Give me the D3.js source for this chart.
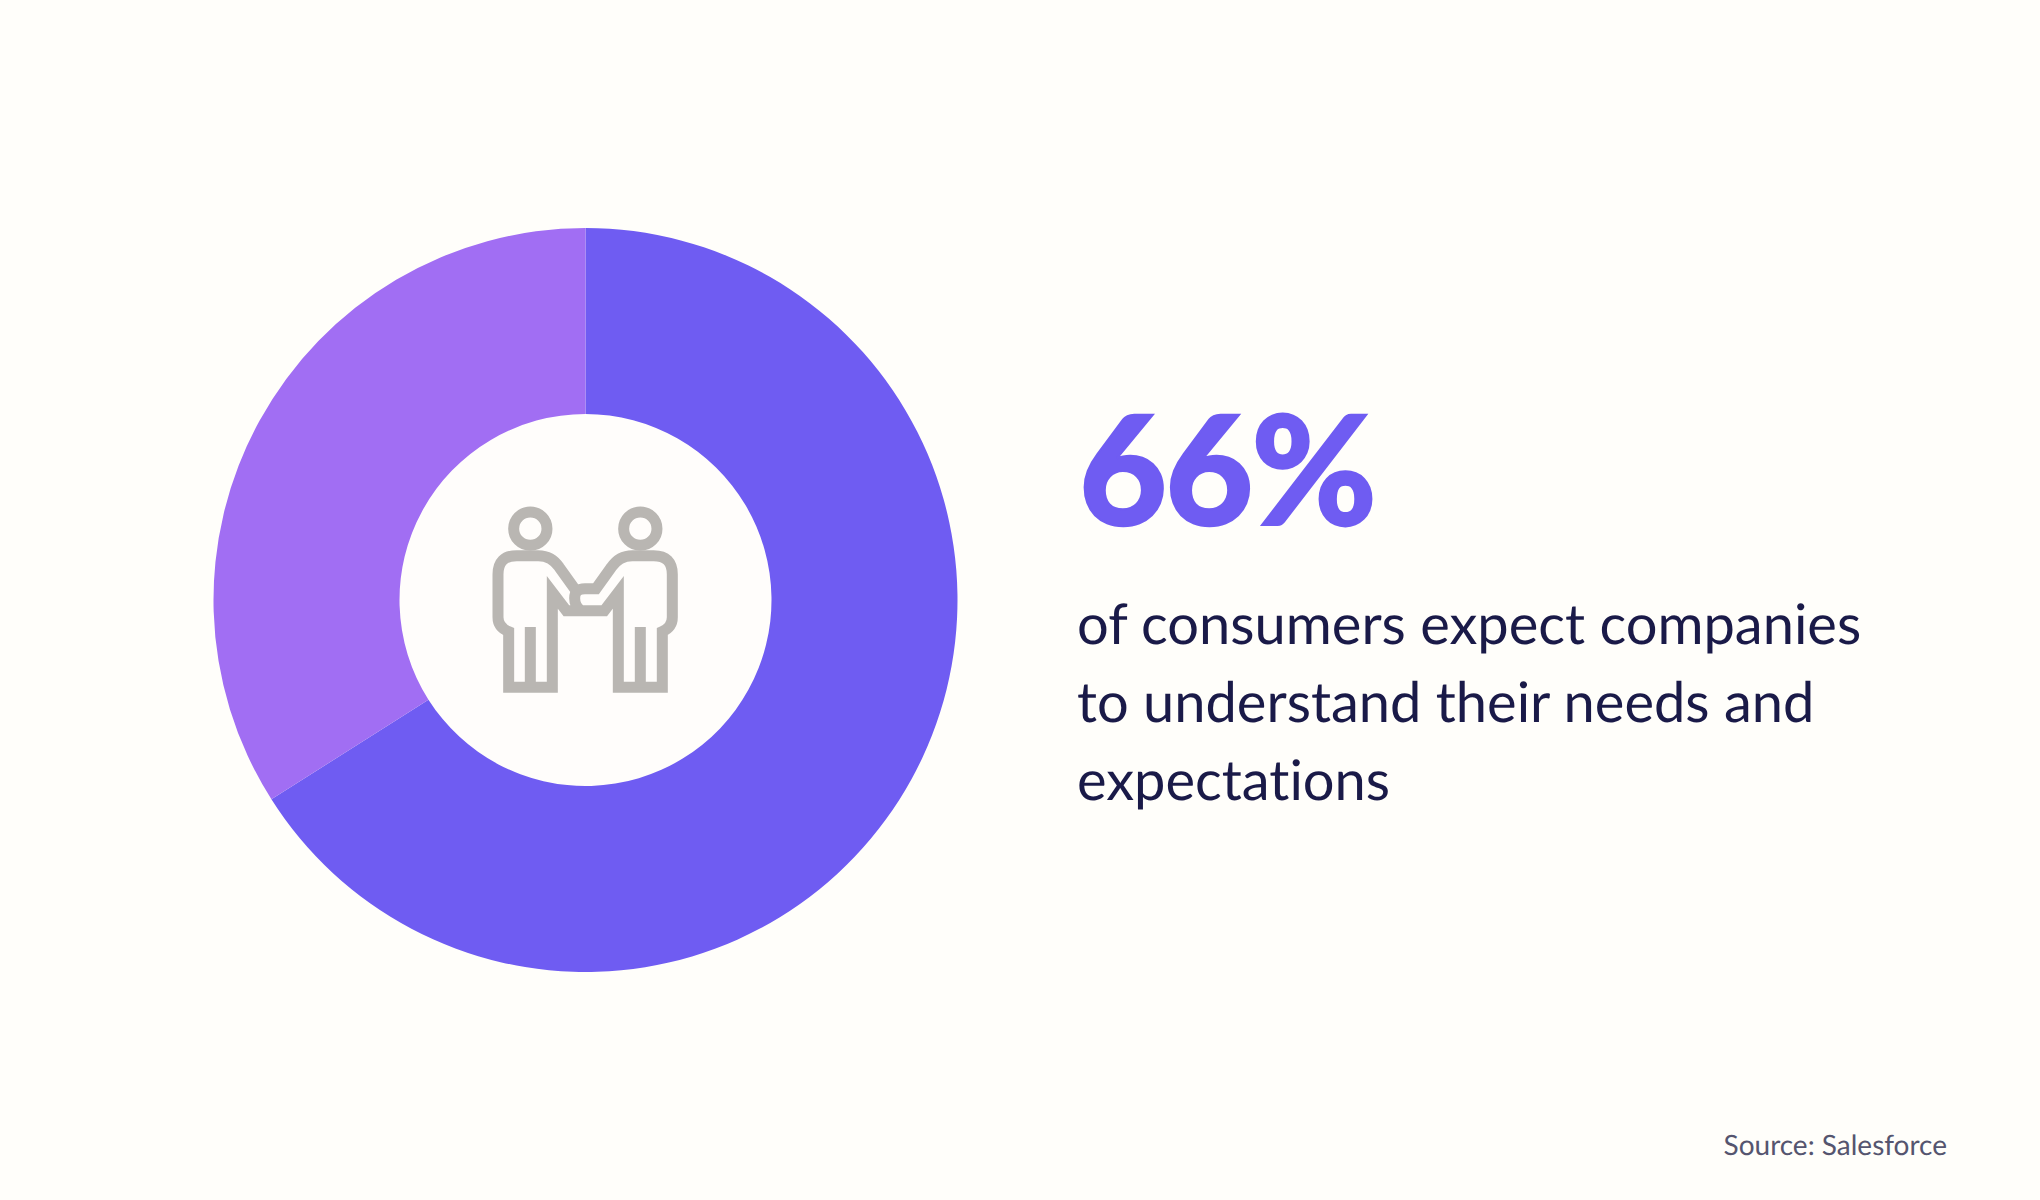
<!DOCTYPE html>
<html>
<head>
<meta charset="utf-8">
<script src="https://cdn.jsdelivr.net/npm/d3@7"></script>
<style>
  html, body { margin: 0; padding: 0; background: #fffefa; }
  svg { display: block; }
  text { font-family: Lato, sans-serif; text-rendering: geometricPrecision; font-variant-ligatures: none; }
</style>
</head>
<body>
<svg id="chart"></svg>
<script>
const labels = ['expect', 'other'];
const values = [66, 34];
const sliceColors = ['#6f5cf2', '#a16ef3'];
const headline = '66%';
const bodyLines = [
  'of consumers expect companies',
  'to understand their needs and',
  'expectations'
];
const sourceText = 'Source: Salesforce';

const svg = d3.select('#chart').attr('width', 2040).attr('height', 1200);

// donut
const donut = svg.append('g').attr('transform', 'translate(585.5,600)');
const pie = d3.pie().sort(null).value(d => d.value);
const arc = d3.arc().innerRadius(186).outerRadius(372);

donut.append('circle').attr('r', 186).attr('fill', '#fffdfb');

donut.selectAll('path')
  .data(pie(labels.map((name, i) => ({ name, value: values[i] }))))
  .enter()
  .append('path')
  .attr('d', arc)
  .attr('fill', (d, i) => sliceColors[i]);

// handshake icon, drawn in a 720 box then scaled down
const icon = svg.append('g')
  .attr('transform', 'translate(470,480) scale(0.3333)')
  .attr('fill', 'none')
  .attr('stroke', '#b9b6b2')
  .attr('stroke-width', 33);

icon.append('circle').attr('cx', 181).attr('cy', 146).attr('r', 50);
icon.append('circle').attr('cx', 511).attr('cy', 146).attr('r', 50);
icon.append('path').attr('d',
  'M318,332 L268,262 Q245,227 205,227 L140,227 Q84,227 84,283 L84,412 Q84,442 116,455 ' +
  'L116,622 L247,622 L247,337 L289,392 L403,392 L445,337 L445,622 L577,622 L577,455 ' +
  'Q607,442 607,412 L607,283 Q607,227 551,227 L487,227 Q447,227 424,262 L378,326 L345,326 ' +
  'Q314,326 314,355 Q314,378 332,392');
icon.append('path').attr('d', 'M181,622 L181,441 M511,622 L511,441');

// text block
svg.append('text')
  .attr('x', 1079)
  .attr('y', 524.5)
  .attr('font-size', 152)
  .attr('font-weight', 900)
  .attr('letter-spacing', -2)
  .attr('fill', '#6f5cf2')
  .attr('stroke', '#6f5cf2')
  .attr('stroke-width', 2)
  .text(headline);

svg.selectAll('text.body')
  .data(bodyLines)
  .enter()
  .append('text')
  .attr('class', 'body')
  .attr('x', 1077)
  .attr('y', (d, i) => 644 + i * 78)
  .attr('font-size', 56)
  .attr('fill', '#1a1a48')
  .text(d => d);

svg.append('text')
  .attr('x', 1947)
  .attr('y', 1155)
  .attr('text-anchor', 'end')
  .attr('font-size', 28)
  .attr('fill', '#55556f')
  .text(sourceText);
</script>
</body>
</html>
